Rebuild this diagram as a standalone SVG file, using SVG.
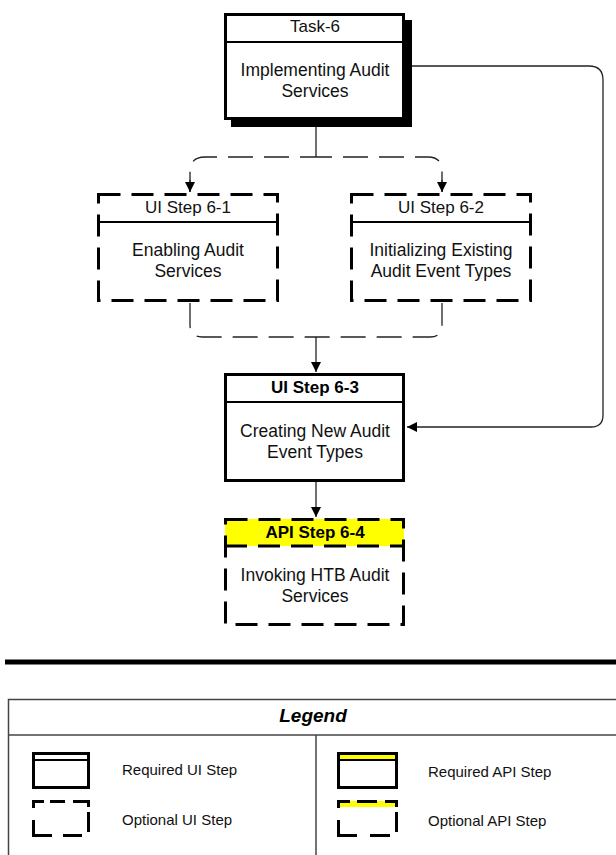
<svg xmlns="http://www.w3.org/2000/svg" width="616" height="855" viewBox="0 0 616 855">
<defs>
<style>
.box{fill:#fff;stroke:#000;stroke-width:3}
.opt{fill:#fff;stroke:#000;stroke-width:3;stroke-dasharray:22 11}
.div{stroke:#000;stroke-width:2}
.ico{fill:none;stroke:#000;stroke-width:3}
.t{font-family:"Liberation Sans",Arial,sans-serif;font-size:17.5px;fill:#111;text-anchor:middle}
.h{font-family:"Liberation Sans",Arial,sans-serif;font-size:17px;fill:#111;text-anchor:middle}
.hb{font-family:"Liberation Sans",Arial,sans-serif;font-size:17px;font-weight:bold;fill:#000;text-anchor:middle}
.lt{font-family:"Liberation Sans",Arial,sans-serif;font-size:15px;fill:#111}
.c{fill:none;stroke:#222;stroke-width:1.3}
.cd{fill:none;stroke:#222;stroke-width:1.3;stroke-dasharray:25 11}
</style>
<marker id="arr" markerWidth="11" markerHeight="11" refX="10" refY="5.5" orient="auto" markerUnits="userSpaceOnUse">
<path d="M0,0.5 L10,5.5 L0,10.5 Z" fill="#000"/>
</marker>
</defs>
<rect width="616" height="855" fill="#fff"/>

<g id="connectors">
<path class="c" d="M316,120 V157"/>
<path class="cd" d="M316,157 H205 Q190,157 190,172 V192" stroke-dashoffset="9"/>
<path class="c" d="M190,180 V192" marker-end="url(#arr)"/>
<path class="cd" d="M316,157 H428 Q442,157 442,171 V192" stroke-dashoffset="9"/>
<path class="c" d="M442,180 V192" marker-end="url(#arr)"/>
<path class="cd" d="M190,303 V325 Q190,337 202,337 H430 Q442,337 442,325 V303"/>
<path class="c" d="M316,337 V372" marker-end="url(#arr)"/>
<path class="c" d="M406,66 H589 Q603,66 603,80 V415 Q603,427 591,427 H407" marker-end="url(#arr)"/>
<path class="c" d="M316,482 V517" marker-end="url(#arr)"/>
</g>

<g id="task6">
<rect x="231" y="20" width="181" height="107" fill="#000"/>
<rect class="box" x="225.5" y="14.5" width="178" height="104"/>
<line class="div" x1="225" y1="42" x2="404" y2="42"/>
<text class="h" x="315" y="32">Task-6</text>
<text class="t" x="315" y="76">Implementing Audit</text>
<text class="t" x="315" y="97">Services</text>
</g>

<g id="ui61">
<rect class="opt" x="98.5" y="194.5" width="179" height="106"/>
<line class="div" x1="98" y1="222" x2="278" y2="222"/>
<text class="h" x="188" y="213">UI Step 6-1</text>
<text class="t" x="188" y="256">Enabling Audit</text>
<text class="t" x="188" y="277">Services</text>
</g>

<g id="ui62">
<rect class="opt" x="351.5" y="194.5" width="179" height="106"/>
<line class="div" x1="351" y1="222" x2="531" y2="222"/>
<text class="h" x="441" y="213">UI Step 6-2</text>
<text class="t" x="441" y="256">Initializing Existing</text>
<text class="t" x="441" y="277">Audit Event Types</text>
</g>

<g id="ui63">
<rect class="box" x="225.5" y="374.5" width="178" height="106"/>
<line class="div" x1="225" y1="402" x2="404" y2="402"/>
<text class="hb" x="315" y="393">UI Step 6-3</text>
<text class="t" x="315" y="437">Creating New Audit</text>
<text class="t" x="315" y="458">Event Types</text>
</g>

<g id="api64">
<rect x="225" y="519" width="179" height="27" fill="#ffff00"/>
<rect class="opt" x="225.5" y="519.5" width="178" height="105" style="fill:none"/>
<line x1="225" y1="546" x2="404" y2="546" stroke="#000" stroke-width="3" stroke-dasharray="22 11"/>
<text class="hb" x="315" y="538">API Step 6-4</text>
<text class="t" x="315" y="581">Invoking HTB Audit</text>
<text class="t" x="315" y="602">Services</text>
</g>

<line x1="5" y1="662" x2="616" y2="662" stroke="#000" stroke-width="5"/>

<g id="legend">
<rect x="8.5" y="699.5" width="620" height="170" fill="#fff" stroke="#444" stroke-width="1.5"/>
<line x1="8" y1="735" x2="616" y2="735" stroke="#444" stroke-width="1.5"/>
<line x1="316" y1="735" x2="316" y2="855" stroke="#444" stroke-width="1.5"/>
<text x="313" y="722" font-family="Liberation Sans, Arial, sans-serif" font-size="19" font-weight="bold" font-style="italic" text-anchor="middle" fill="#000">Legend</text>

<rect class="box" x="33.5" y="753.5" width="55" height="34"/>
<line class="div" x1="33" y1="760" x2="88" y2="760"/>
<text class="lt" x="122" y="775">Required UI Step</text>

<path class="ico" d="M33.5,808 V801.5 H44 M50,801.5 H65 M73,801.5 H88.5 V807 M88.5,812 V832 M33.5,820 V835.5 H52 M63,835.5 H82"/>
<text class="lt" x="122" y="825">Optional UI Step</text>

<rect x="338" y="753" width="59" height="7" fill="#ffff00"/>
<rect class="box" x="338.5" y="753.5" width="58" height="34" style="fill:none"/>
<line class="div" x1="338" y1="760" x2="397" y2="760"/>
<text class="lt" x="428" y="777">Required API Step</text>

<rect x="338" y="801" width="59" height="6" fill="#ffff00"/>
<path class="ico" d="M338.5,808 V801.5 H350 M357,801.5 H377 M385,801.5 H396.5 V807 M396.5,812 V832 M338.5,820 V835.5 H357 M370,835.5 H390"/>
<text class="lt" x="428" y="826">Optional API Step</text>
</g>
</svg>
